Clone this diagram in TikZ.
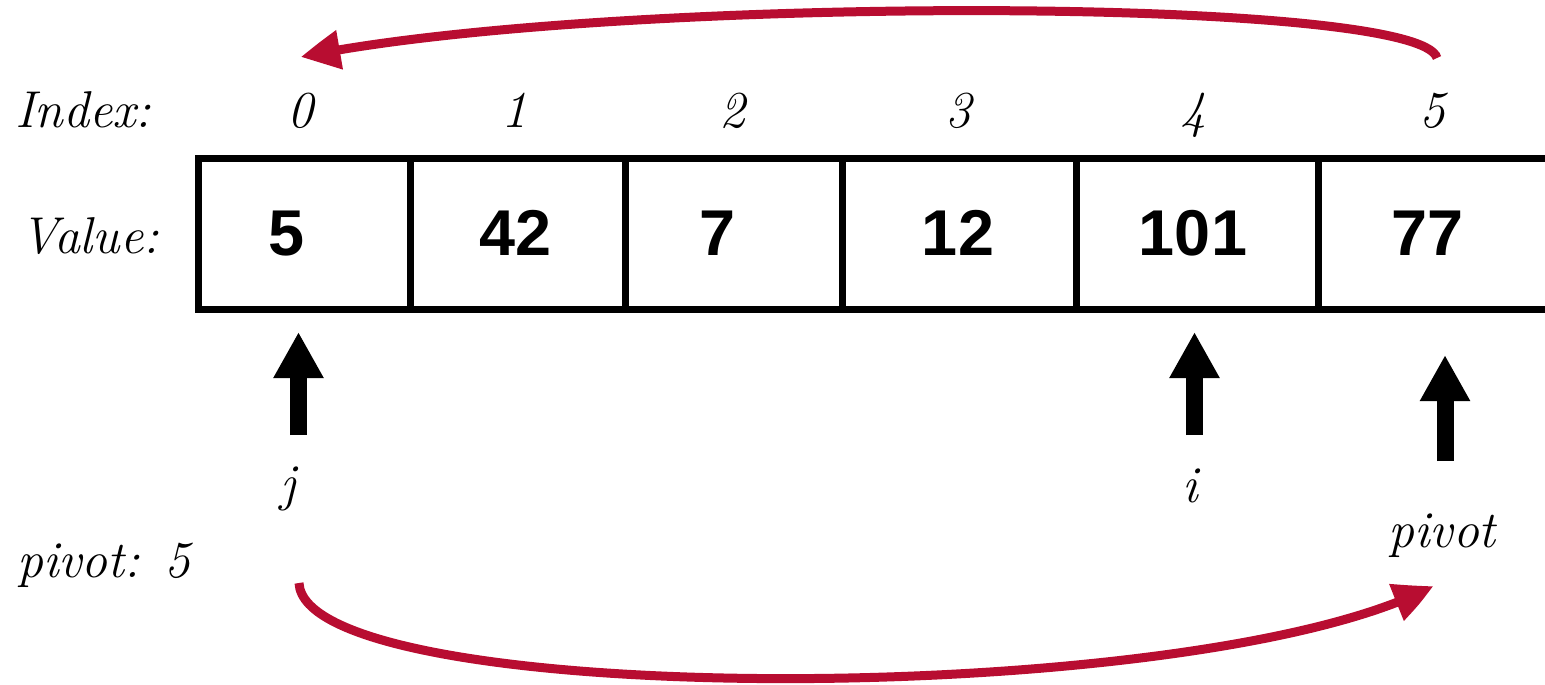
\documentclass[tikz,border=0pt]{standalone}
\usepackage{fontspec}
\newfontfamily\valfont{Liberation Sans Bold}
\usetikzlibrary{arrows.meta,bending}
\definecolor{arrowred}{HTML}{B80D31}
\tikzset{
  lbl/.style={inner sep=0pt, font=\rmfamily\itshape\fontsize{52}{60}\selectfont},
  idx/.style={inner sep=0pt, anchor=base, font=\rmfamily\itshape\fontsize{52}{60}\selectfont},
  val/.style={inner sep=0pt, anchor=base, font=\valfont\fontsize{65}{75}\selectfont},
  cellline/.style={line width=7bp, line cap=rect},
  pointer/.style={line width=17bp, -{Triangle[width=47bp,length=46bp]}},
  swaparrow/.style={arrowred, line width=9bp, -{Triangle[width=38bp,length=38bp,bend]}}
}
\begin{document}
\begin{tikzpicture}[x=1bp,y=-1bp]
\useasboundingbox (0,0) rectangle (1545,685);
% array grid
\draw[cellline] (1560,158.5) -- (198,158.5) -- (198,309) -- (1560,309);
\foreach \xx in {410,625,842,1076,1318}{
  \draw[line width=7bp] (\xx,158.5) -- (\xx,309);
}
% labels
\node[lbl, anchor=base west] (indexlbl) at (15,128) {Index:};
\node[lbl, anchor=base west] (valuelbl) at (20,253) {Value:};
% index numbers
\node[idx] (i0) at (300,128) {0};
\node[idx] (i1) at (514,128) {1};
\node[idx] (i2) at (732,128) {2};
\node[idx] (i3) at (958,128) {3};
\node[idx] (i4) at (1193,128) {4};
\node[idx] (i5) at (1432,128) {5};
% values
\node[val] (v0) at (287,255) {5};
\node[val] (v1) at (516,255) {42};
\node[val] (v2) at (717,255) {7};
\node[val] (v3) at (958,255) {12};
\node[val] (v4) at (1193,255) {101};
\node[val] (v5) at (1427,255) {77};
% pointers
\coordinate (jbot) at (298.5,435);
\coordinate (jtop) at (298.5,332);
\coordinate (ibot) at (1194.5,435);
\coordinate (itop) at (1194.5,332);
\coordinate (pbot) at (1445,461);
\coordinate (ptop) at (1445,355);
\draw[pointer] (jbot) -- (jtop);
\draw[pointer] (ibot) -- (itop);
\draw[pointer] (pbot) -- (ptop);
\node[idx] (jlbl) at (288,500) {j};
\node[idx] (ilbl) at (1190,502) {i};
\node[idx] (plbl) at (1442,547) {pivot};
\node[lbl, anchor=base west] (pivotval) at (17,577) {pivot: 5};
% swap arrows
\coordinate (ts) at (1437,58);
\coordinate (te) at (301,57);
\coordinate (bs) at (299,583);
\coordinate (be) at (1433,586);
\draw[swaparrow] (ts) .. controls (1420,-5) and (600,-5) .. (te);
\draw[swaparrow] (bs) .. controls (305,710) and (1200,710) .. (be);
\end{tikzpicture}
\end{document}
